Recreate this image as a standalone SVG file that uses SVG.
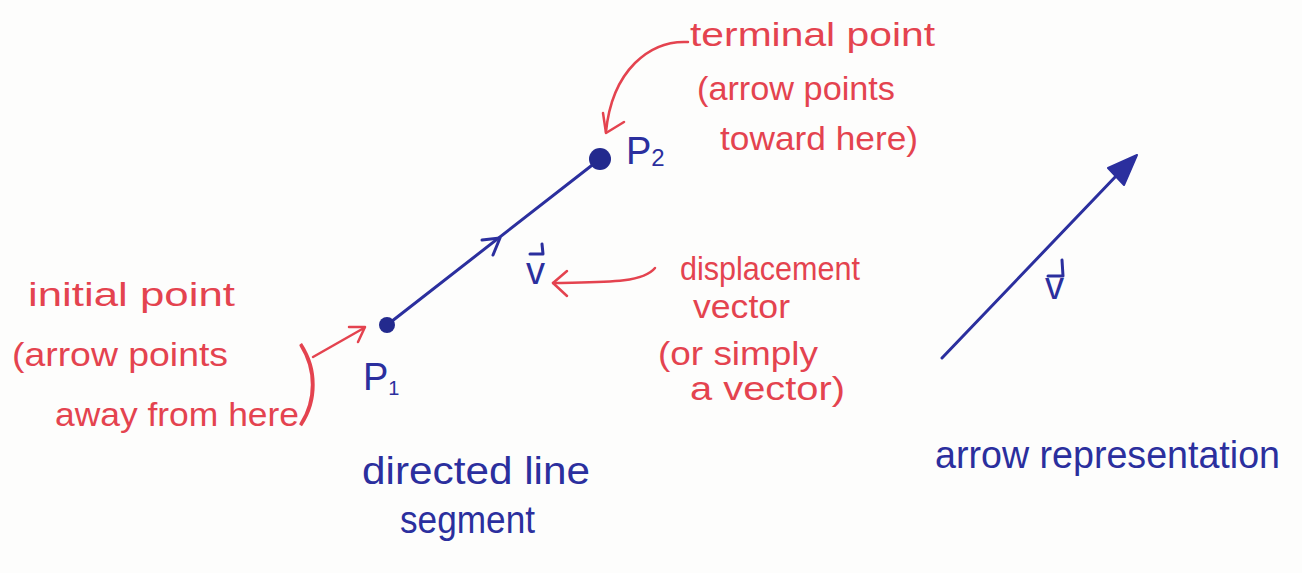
<svg xmlns="http://www.w3.org/2000/svg" width="1302" height="573" viewBox="0 0 1302 573">
<style>
.red{fill:#e4434f;font-family:"Liberation Sans",Arial,sans-serif;font-size:33px}
.blue{fill:#2b2f9e;font-family:"Liberation Sans",Arial,sans-serif;font-size:38px}
.rl{fill:none;stroke:#e4434f;stroke-width:2.5;stroke-linecap:round;stroke-linejoin:round}
.bl{fill:none;stroke:#2b2f9e;stroke-width:3;stroke-linecap:round;stroke-linejoin:round}
</style>
<rect width="1302" height="573" fill="#fdfdfc"/>
<g id="connectors">
  <path class="bl" d="M387,325 L600,159"/>
  <path class="bl" d="M482,240 L500,238 L493,255"/>
  <path class="bl" d="M942,358 L1118,174"/>
  <polygon points="1137,155 1108,168 1124,185" fill="#2b2f9e" stroke="#2b2f9e" stroke-width="2" stroke-linejoin="round"/>
  <path class="rl" d="M688,42 C650,40 612,70 606,132"/>
  <path class="rl" d="M603,113 L606,133 L624,122"/>
  <path class="rl" d="M655,268 C642,284 600,282 553,283"/>
  <path class="rl" d="M567,271 L553,283 L567,296"/>
  <path class="rl" d="M313,357 L364,328"/>
  <path class="rl" d="M349,327 L365,327 L358,342"/>
</g>
<g id="p1">
  <circle cx="387" cy="325" r="8" fill="#232a8e"/>
  <text class="blue" x="363" y="390" font-size="36">P<tspan font-size="20" dy="5">1</tspan></text>
</g>
<g id="p2">
  <circle cx="600" cy="159" r="11" fill="#232a8e"/>
  <text class="blue" x="626" y="164" font-size="36">P<tspan font-size="24" dy="2">2</tspan></text>
</g>
<g id="vector-label">
  <text class="blue" x="526" y="284" font-size="36">v</text>
  <path class="bl" d="M530,254 L543,254 L542,244" stroke-width="2.5"/>
</g>
<g id="arrow-vector-label">
  <text class="blue" x="1045" y="299" font-size="36">v</text>
  <path class="bl" d="M1048,276 L1063,276 L1062,260" stroke-width="2.5"/>
</g>
<g id="terminal-label">
  <text class="red" x="690" y="46" textLength="245" lengthAdjust="spacingAndGlyphs">terminal point</text>
  <text class="red" x="697" y="100" textLength="198" lengthAdjust="spacingAndGlyphs">(arrow points</text>
  <text class="red" x="720" y="150" textLength="198" lengthAdjust="spacingAndGlyphs">toward here)</text>
</g>
<g id="displacement-label">
  <text class="red" x="680" y="280" textLength="180" lengthAdjust="spacingAndGlyphs" font-size="30">displacement</text>
  <text class="red" x="693" y="318" textLength="97" lengthAdjust="spacingAndGlyphs">vector</text>
  <text class="red" x="658" y="365" textLength="160" lengthAdjust="spacingAndGlyphs">(or simply</text>
  <text class="red" x="690" y="400" textLength="155" lengthAdjust="spacingAndGlyphs">a vector)</text>
</g>
<g id="initial-label">
  <text class="red" x="28" y="306" textLength="207" lengthAdjust="spacingAndGlyphs">initial point</text>
  <text class="red" x="12" y="366" textLength="216" lengthAdjust="spacingAndGlyphs">(arrow points</text>
  <text class="red" x="55" y="426"><tspan textLength="244" lengthAdjust="spacingAndGlyphs">away from here</tspan><tspan x="296" y="414" font-size="92" font-family="Lato, sans-serif" font-weight="300">)</tspan></text>
</g>
<g id="directed-label">
  <text class="blue" x="362" y="484" textLength="228" lengthAdjust="spacingAndGlyphs">directed line</text>
  <text class="blue" x="400" y="533" textLength="135" lengthAdjust="spacingAndGlyphs">segment</text>
</g>
<g id="arrow-rep-label">
  <text class="blue" x="935" y="468" textLength="345" lengthAdjust="spacingAndGlyphs">arrow representation</text>
</g>
</svg>
